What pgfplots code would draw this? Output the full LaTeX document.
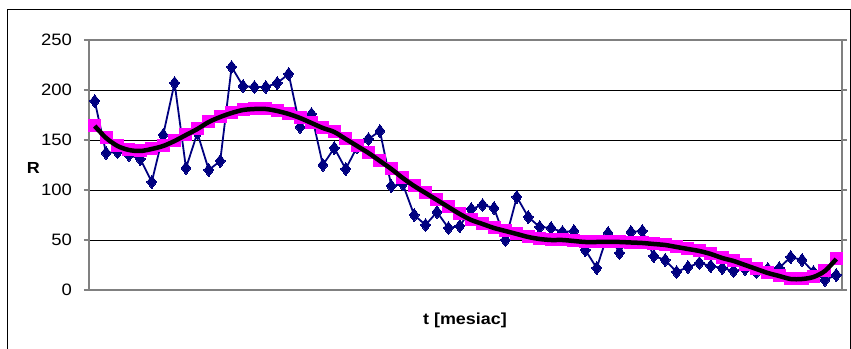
\documentclass[border=0pt]{standalone}
\usepackage{pgfplots}
\pgfplotsset{compat=1.18}
\usepackage{fontspec}
\setmainfont{Liberation Sans}
\newfontfamily\wfont[FakeStretch=1.12]{Liberation Sans}
\definecolor{navyb}{HTML}{000080}
\definecolor{mag}{HTML}{FF00FF}
\definecolor{axgray}{HTML}{808080}
\pgfplotstableread{
x fit
0.5 164
1.5 152
2.5 144
3.5 140
4.5 139
5.5 141
6.5 144
7.5 149
8.5 155
9.5 161
10.5 168
11.5 173
12.5 177
13.5 180
14.5 181
15.5 181
16.5 179
17.5 176
18.5 172
19.5 167
20.5 162
21.5 158
22.5 151
23.5 144
24.5 137
25.5 129
26.5 121
27.5 112
28.5 104
29.5 97
30.5 90
31.5 83
32.5 76
33.5 70
34.5 66
35.5 62
36.5 59
37.5 56
38.5 53
39.5 51
40.5 50
41.5 50
42.5 49
43.5 48
44.5 48
45.5 48
46.5 48
47.5 47.5
48.5 47
49.5 46
50.5 45
51.5 43
52.5 41
53.5 39
54.5 36
55.5 32
56.5 29
57.5 25
58.5 21
59.5 17
60.5 14
61.5 11
62.5 11
63.5 13
64.5 19
65.5 31
}\fittable
\begin{document}
\begin{tikzpicture}[x=1pt,y=1pt]
\path[use as bounding box] (0,0) rectangle (851,348);
\draw[black, line width=0.9pt] (7,-5) -- (7,339) -- (850,339) -- (850,-5);
\begin{axis}[
  at={(89pt,58pt)}, anchor=south west,
  scale only axis, width=753pt, height=250pt,
  xmin=0, xmax=66, ymin=0, ymax=250,
  xtick=\empty,
  ytick={0,50,100,150,200,250},
  ymajorgrids, grid style={black, line width=0.8pt},
  axis line style={axgray, line width=1.4pt},
  tick align=outside, major tick length=5pt,
  tick style={axgray, line width=1.2pt},
  /pgf/number format/assume math mode=true,
  tick label style={font=\wfont\fontsize{16.5}{20}\selectfont},
  yticklabel style={xshift=-8.5pt},
  ylabel={\textbf{R}},
  ylabel style={rotate=-90, font=\wfont\fontsize{16}{19}\selectfont, at={(axis description cs:-0.074,0.49)}, anchor=center},
  xlabel={\textbf{t [mesiac]}},
  xlabel style={font=\wfont\fontsize{16}{19}\selectfont, at={(axis description cs:0.4993,-0.12)}, anchor=center},
  clip=false,
]
\addplot[navyb, line width=1.8pt, mark=diamond*, mark size=6.5pt, mark options={fill=navyb, draw=navyb, line width=0pt}] coordinates {
(0.5,189) (1.5,137) (2.5,138) (3.5,135) (4.5,131) (5.5,108) (6.5,155) (7.5,207) (8.5,122) (9.5,157)
(10.5,120) (11.5,129) (12.5,223) (13.5,204) (14.5,203) (15.5,203) (16.5,207) (17.5,216) (18.5,163) (19.5,176)
(20.5,125) (21.5,142) (22.5,121) (23.5,143) (24.5,151) (25.5,159) (26.5,104) (27.5,106) (28.5,75) (29.5,65)
(30.5,78) (31.5,62) (32.5,64) (33.5,81) (34.5,85) (35.5,82) (36.5,50) (37.5,93) (38.5,73) (39.5,63)
(40.5,62) (41.5,58) (42.5,59) (43.5,40) (44.5,22) (45.5,57) (46.5,37) (47.5,58) (48.5,59) (49.5,34)
(50.5,30) (51.5,18) (52.5,23) (53.5,27) (54.5,24) (55.5,22) (56.5,19) (57.5,21) (58.5,18) (59.5,21)
(60.5,22) (61.5,33) (62.5,30) (63.5,18) (64.5,10) (65.5,15)
};
\addplot[only marks, mark=square*, mark size=6pt, mark options={fill=mag, draw=mag, line width=0pt}] table[x=x, y=fit] {\fittable};
\end{axis}
\begin{axis}[
  at={(89pt,58pt)}, anchor=south west,
  scale only axis, width=753pt, height=250pt,
  xmin=0, xmax=66, ymin=0, ymax=250,
  axis lines=none, clip=false,
]
\addplot[black, line width=4.5pt, smooth, no marks] table[x=x, y=fit] {\fittable};
\end{axis}
\end{tikzpicture}
\end{document}
